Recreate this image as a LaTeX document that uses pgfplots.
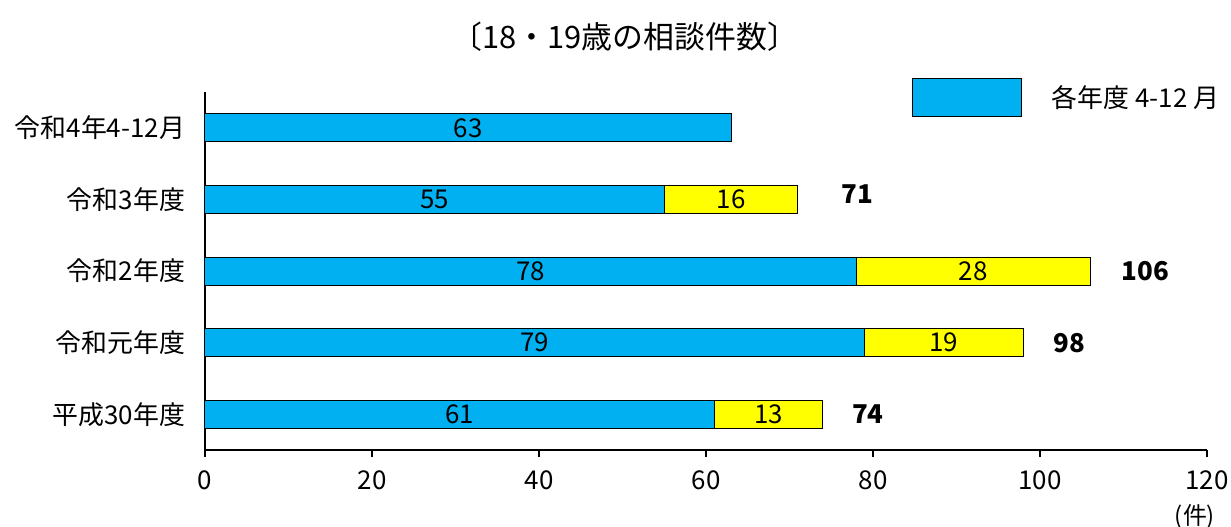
\documentclass[border=0pt]{standalone}
\usepackage{fontspec}
\setmainfont{Noto Sans CJK JP}
\usepackage{pgfplots}
\pgfplotsset{compat=1.18}
\definecolor{barblue}{RGB}{0,176,240}
\definecolor{baryellow}{RGB}{255,255,0}
\tikzset{inlab/.style={font=\fontsize{13}{15}\selectfont},
         totlab/.style={font=\fontsize{13}{15}\selectfont\bfseries}}
\begin{document}
\begin{tikzpicture}
\path[use as bounding box] (-102.5bp,-38.5bp) rectangle (513bp,225bp);
\begin{axis}[
 at={(0,0)}, anchor=south west,
 scale only axis, width=501bp, height=179bp,
 xbar, bar width=14bp, bar shift=0pt,
 xmin=0, xmax=120, ymin=-0.5, ymax=4.5,
 clip=false,
 axis x line=bottom, axis y line=left,
 axis line style={-, line width=1bp},
 xtick={0,20,...,120}, ytick={0,...,4},
 yticklabels={平成30年度,令和元年度,令和2年度,令和3年度,令和4年4-12月},
 ytick style={draw=none},
 xtick style={line width=1bp, black},
 tick align=outside, major tick length=3.5bp,
 tick label style={font=\fontsize{13}{15}\selectfont},
 yticklabel style={xshift=-3bp},
 xticklabel style={yshift=-3.5bp},
 /pgf/number format/assume math mode=true,
 legend style={at={(rel axis cs:0.705,1.039)}, anchor=north west, draw=none, fill=none,
   font=\fontsize{13}{15}\selectfont, inner sep=0pt, nodes={inner sep=0pt},
   /tikz/every odd column/.append style={column sep=15bp}},
 legend image code/.code={\draw[#1] (0bp,-9.5bp) rectangle (54.5bp,9.5bp);},
]
% yellow: total of blue (4-12 months) and yellow (1-3 months) segments
\addplot[fill=baryellow, draw=black, line width=0.5bp, forget plot] coordinates {(74,0) (98,1) (106,2) (71,3)};
% blue: April-December of each year
\addplot[fill=barblue, draw=black, line width=0.5bp] coordinates {(61,0) (79,1) (78,2) (55,3) (63,4)};
\addlegendentry{各年度 4-12 月}
\node[inlab] at (axis cs:30.5,0) {61};
\node[inlab] at (axis cs:67.5,0) {13};
\node[inlab] at (axis cs:39.5,1) {79};
\node[inlab] at (axis cs:88.5,1) {19};
\node[inlab] at (axis cs:39,2) {78};
\node[inlab] at (axis cs:92,2) {28};
\node[inlab] at (axis cs:27.5,3) {55};
\node[inlab] at (axis cs:63,3) {16};
\node[inlab] at (axis cs:31.5,4) {63};
\node[totlab] at (axis cs:79.4,0) {74};
\node[totlab] at (axis cs:103.5,1) {98};
\node[totlab] at (axis cs:112.6,2) {106};
\node[totlab] at (axis cs:78.1,3.07) {71};
\node[font=\fontsize{15.5}{18}\selectfont] at (rel axis cs:0.419,1.154) {〔18・19歳の相談件数〕};
\node[font=\fontsize{12}{14}\selectfont] at (rel axis cs:0.988,-0.187) {(件)};
\end{axis}
\end{tikzpicture}
\end{document}
